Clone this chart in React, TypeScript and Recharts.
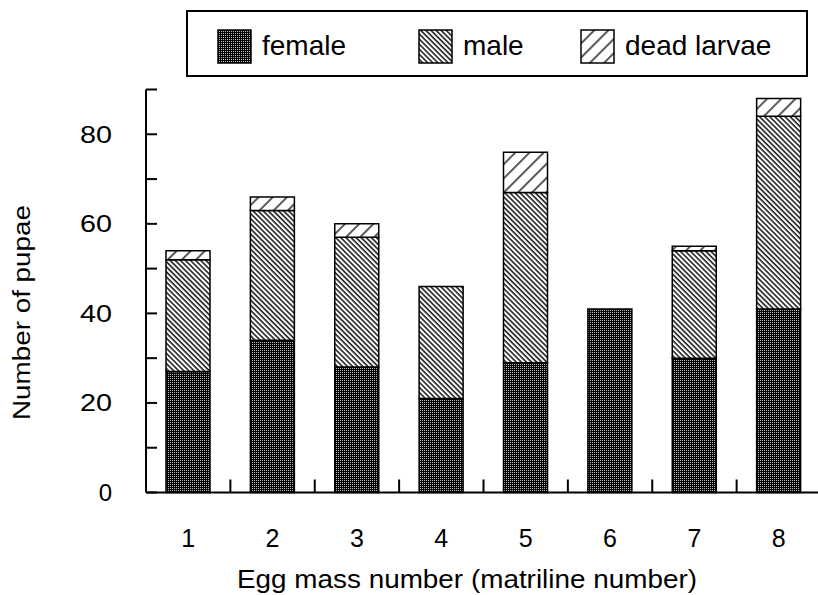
import { BarChart, Bar, XAxis, YAxis, Legend } from 'recharts';

// egg mass (matriline) numbers on the x axis
const categories = ['1', '2', '3', '4', '5', '6', '7', '8'];

// pupae counts, stacked bottom to top
const femaleCounts = [27, 34, 28, 21, 29, 41, 30, 41];
const maleCounts = [25, 29, 29, 25, 38, 0, 24, 43];
const deadLarvaeCounts = [2, 3, 3, 0, 9, 0, 1, 4];

const seriesOrder = ['female', 'male', 'dead'];

const yTicks = [0, 10, 20, 30, 40, 50, 60, 70, 80, 90];
const yTickLabels = [0, 20, 40, 60, 80];

const data = categories.map((egg, i) => ({
  egg,
  female: femaleCounts[i],
  male: maleCounts[i],
  dead: deadLarvaeCounts[i],
}));

const FONT = '"Liberation Sans", Arial, Helvetica, sans-serif';

// hatch / stipple fills used by the bars and the legend swatches
function Patterns({ prefix }: { prefix: string }) {
  return (
    <>
      <pattern id={`${prefix}-female`} patternUnits="userSpaceOnUse" width={2} height={2}>
        <rect width={2} height={2} fill="#000" />
        <rect width={1} height={1} fill="#bcbcbc" />
      </pattern>
      <pattern id={`${prefix}-male`} patternUnits="userSpaceOnUse" width={3.6} height={3.6} patternTransform="rotate(-45)">
        <rect width={3.6} height={3.6} fill="#fff" />
        <line x1={1} y1={0} x2={1} y2={3.6} stroke="#000" strokeWidth={1.4} />
      </pattern>
      <pattern id={`${prefix}-dead`} patternUnits="userSpaceOnUse" width={10} height={10} patternTransform="rotate(45)">
        <rect width={10} height={10} fill="#fff" />
        <line x1={1} y1={0} x2={1} y2={10} stroke="#000" strokeWidth={1.3} />
      </pattern>
    </>
  );
}

// y ticks point into the plot, only every other one has a number
const YTick = (props: any) => {
  const { x, y, payload } = props;
  const v = payload.value;
  const label = String(v);
  return (
    <g>
      <line x1={x} y1={y} x2={x + 11} y2={y} stroke="#000" strokeWidth={2} />
      {yTickLabels.includes(v) && (
        <text
          x={x - 34}
          y={y + 8.5}
          textAnchor="end"
          fontSize={24}
          fontFamily={FONT}
          fill="#000"
          textLength={label.length > 1 ? label.length * 16 : undefined}
          lengthAdjust="spacingAndGlyphs"
        >
          {label}
        </text>
      )}
    </g>
  );
};

// x ticks sit between the categories, labels under the bars
const XTick = (props: any) => {
  const { x, y, payload } = props;
  const half = payload.offset ?? 42;
  return (
    <g>
      <line x1={x + half} y1={y} x2={x + half} y2={y - 13} stroke="#000" strokeWidth={2} />
      <text x={x} y={y + 54} textAnchor="middle" fontSize={25} fontFamily={FONT} fill="#000">
        {payload.value}
      </text>
    </g>
  );
};

const YTitle = (props: any) => {
  const { viewBox } = props;
  const cx = viewBox.x + 14;
  const cy = viewBox.y + viewBox.height / 2 + 21.5;
  return (
    <text
      x={cx}
      y={cy}
      transform={`rotate(-90 ${cx} ${cy})`}
      textAnchor="middle"
      dominantBaseline="central"
      fontSize={23}
      fontFamily={FONT}
      fill="#000"
      textLength={215}
      lengthAdjust="spacingAndGlyphs"
    >
      Number of pupae
    </text>
  );
};

const XTitle = (props: any) => {
  const { viewBox } = props;
  const cx = viewBox.x + viewBox.width / 2 - 16.5;
  return (
    <text
      x={cx}
      y={viewBox.y + 95.5}
      textAnchor="middle"
      fontSize={25}
      fontFamily={FONT}
      fill="#000"
      textLength={460}
      lengthAdjust="spacingAndGlyphs"
    >
      Egg mass number (matriline number)
    </text>
  );
};

const legendItemLeft = [29, 230, 392];

const renderLegend = (props: any) => {
  const payload: any[] = [...(props.payload || [])].sort(
    (a, b) => seriesOrder.indexOf(a.dataKey) - seriesOrder.indexOf(b.dataKey)
  );
  return (
    <div
      style={{
        position: 'relative',
        width: 622,
        height: 67,
        border: '2px solid #000',
        boxSizing: 'border-box',
        background: '#fff',
        fontFamily: FONT,
      }}
    >
      {payload.map((entry: any, i: number) => (
        <div
          key={entry.value}
          style={{ position: 'absolute', left: legendItemLeft[i], top: 17, height: 34, display: 'flex', alignItems: 'center' }}
        >
          <svg width={35} height={35} style={{ display: 'block' }}>
            <defs>
              <Patterns prefix={`lg${i}`} />
            </defs>
            <rect x={1} y={1} width={33} height={33} fill={`url(#lg${i}-${entry.dataKey})`} stroke="#000" strokeWidth={1.5} />
          </svg>
          <span style={{ fontSize: 28, marginLeft: 10, lineHeight: 1, color: '#000' }}>{entry.value}</span>
        </div>
      ))}
    </div>
  );
};

export default function App() {
  return (
    <div style={{ position: 'absolute', top: 8, left: 8, width: 810, height: 587, overflow: 'hidden', background: '#fff' }}>
      <BarChart width={813} height={587} data={data} margin={{ top: 81.5, right: 0, bottom: 0, left: 0 }} barSize={44}>
        <defs>
          <Patterns prefix="bar" />
        </defs>
        <XAxis
          dataKey="egg"
          height={102.5}
          interval={0}
          tickSize={0}
          tickMargin={0}
          tickLine={false}
          tick={<XTick />}
          axisLine={{ stroke: '#000', strokeWidth: 2 }}
          label={<XTitle />}
        />
        <YAxis
          type="number"
          domain={[0, 90]}
          ticks={yTicks}
          interval={0}
          width={138}
          tickSize={0}
          tickMargin={0}
          tickLine={false}
          tick={<YTick />}
          axisLine={{ stroke: '#000', strokeWidth: 2 }}
          label={<YTitle />}
        />
        <Legend
          layout="vertical"
          align="center"
          verticalAlign="middle"
          content={renderLegend}
          wrapperStyle={{ left: 178, top: 2, width: 622, height: 67 }}
        />
        <Bar dataKey="female" name="female" stackId="s" fill="url(#bar-female)" stroke="#000" strokeWidth={1.5} isAnimationActive={false} />
        <Bar dataKey="male" name="male" stackId="s" fill="url(#bar-male)" stroke="#000" strokeWidth={1.5} isAnimationActive={false} />
        <Bar dataKey="dead" name="dead larvae" stackId="s" fill="url(#bar-dead)" stroke="#000" strokeWidth={1.5} isAnimationActive={false} />
      </BarChart>
    </div>
  );
}
